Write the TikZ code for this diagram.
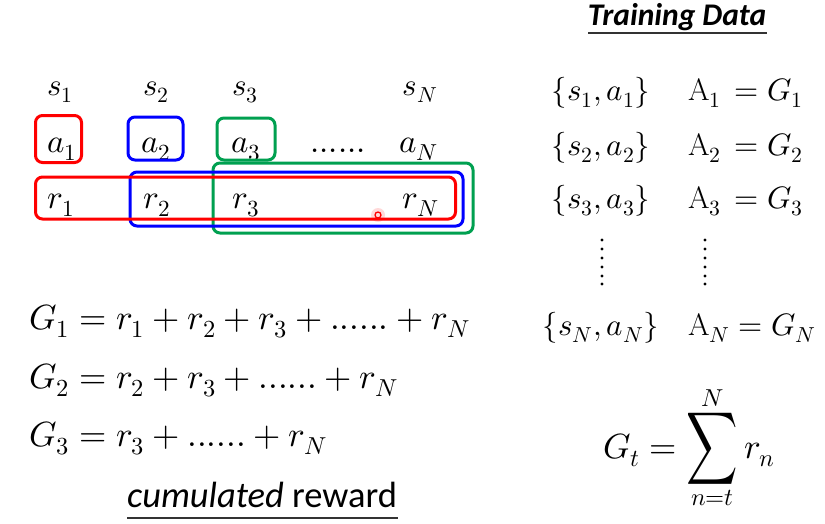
\documentclass[tikz,border=0pt]{standalone}
\usepackage{graphicx}
\usepackage{fontspec}
\usepackage{unicode-math}
\setmathfont{Latin Modern Math}
\newcommand{\calib}{\fontspec{Carlito}}
\definecolor{myred}{RGB}{255,0,0}
\definecolor{myblue}{RGB}{0,0,255}
\definecolor{mygreen}{RGB}{0,160,80}
\newcommand{\bigsumsym}{\mathop{\vcenter{\hbox{\scalebox{1.02}[1.45]{$\displaystyle\sum$}}}}\limits}
\begin{document}
\begin{tikzpicture}[x=1pt,y=-1pt,
  sl/.style={inner sep=0pt, anchor=base, font=\fontsize{31}{34}\selectfont},
  al/.style={inner sep=0pt, anchor=base, font=\fontsize{33}{36}\selectfont},
  td/.style={inner sep=0pt, anchor=base, font=\fontsize{31}{34}\selectfont},
  eq/.style={inner sep=0pt, anchor=base west, font=\fontsize{35}{38}\selectfont},
  hbox/.style={draw, line width=3pt, rounded corners=7pt, inner sep=0pt},
  uline/.style={line width=1.4pt, draw=black!80}]
\useasboundingbox (0,0) rectangle (825,523);
% states
\node[sl] (s1) at (60,95) {$s_1$};
\node[sl] (s2) at (156,95) {$s_2$};
\node[sl] (s3) at (245,95) {$s_3$};
\node[sl] (sN) at (420,95) {$s_N$};
% actions
\node[al] (a1) at (62,152) {$a_1$};
\node[al] (a2) at (156,152) {$a_2$};
\node[al] (a3) at (246,152) {$a_3$};
\node[al] (adots) at (338,152) {$......$};
\node[al] (aN) at (419,152) {$a_N$};
% rewards
\node[al] (r1) at (61,208) {$r_1$};
\node[al] (r2) at (157,208) {$r_2$};
\node[al] (r3) at (246,208) {$r_3$};
\node[al] (rN) at (421,208) {$r_N$};
% boxes around actions
\node[hbox, myred, minimum width=46, minimum height=47] (ba1) at (58.5,139) {};
\node[hbox, myblue, minimum width=55, minimum height=43] (ba2) at (155.5,138.5) {};
\node[hbox, mygreen, minimum width=58, minimum height=42] (ba3) at (246,139) {};
% boxes around rewards
\node[hbox, mygreen, minimum width=260, minimum height=70] (bg) at (343,198) {};
\node[hbox, myblue, minimum width=333, minimum height=54] (bb) at (296.5,199) {};
\node[hbox, myred, minimum width=420, minimum height=42] (br) at (245.5,198) {};
% pointer mark
\fill[myred, opacity=0.15] (378,215) circle (7);
\node[draw=myred, line width=1.3pt, circle, inner sep=0pt, minimum size=6] (ptr) at (378,215) {};
% equations
\node[eq] (g1) at (29,329) {$G_1 = r_1 + r_2 + r_3 + ...... + r_N$};
\node[eq] (g2) at (29,388) {$G_2 = r_2 + r_3 + ...... + r_N$};
\node[eq] (g3) at (29,446) {$G_3 = r_3 + ...... + r_N$};
\node[inner sep=0pt, anchor=base, font=\calib\fontsize{36.5}{40}\selectfont] (cr) at (262,507) {\textit{cumulated} reward};
\draw[uline] (127,518) -- (398,518);
% training data
\node[inner sep=0pt, anchor=base, font=\calib\bfseries\itshape\fontsize{31.5}{34}\selectfont] (tdt) at (677,25) {Training Data};
\draw[uline] (588,33) -- (767,33);
\node[td] (p1) at (601,100) {$\{s_1, a_1\}$};
\node[td] (p2) at (601,155) {$\{s_2, a_2\}$};
\node[td] (p3) at (601,208) {$\{s_3, a_3\}$};
\node[td] (pN) at (601,335) {$\{s_N, a_N\}$};
\node[td, anchor=base west] (A1) at (688,100) {$\mathrm{A}_1\,= G_1$};
\node[td, anchor=base west] (A2) at (688,155) {$\mathrm{A}_2\,= G_2$};
\node[td, anchor=base west] (A3) at (688,208) {$\mathrm{A}_3\,= G_3$};
\node[td, anchor=base west] (AN) at (688,335) {$\mathrm{A}_N = G_N$};
% vertical dots
\foreach \yy in {240,249,258,267,276,284} {
  \fill (602,\yy) circle (1.6);
  \fill (705,\yy) circle (1.6);
}
% G_t formula
\node[inner sep=0pt, anchor=base west, font=\fontsize{35}{40}\selectfont] (gt) at (603,458) {$\displaystyle G_t = \bigsumsym_{n=t}^{N} r_n$};
\end{tikzpicture}
\end{document}
